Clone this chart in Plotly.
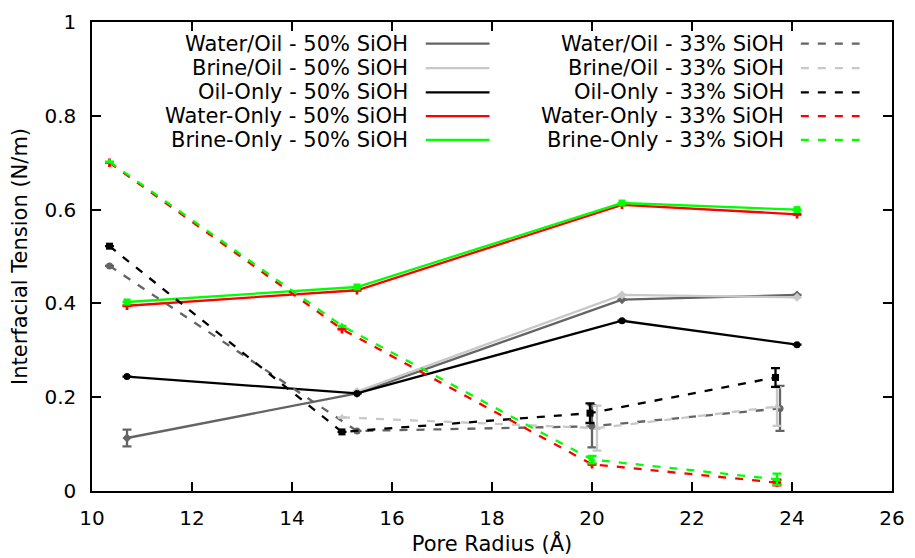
import plotly.graph_objects as go

# ---- data ----
x_wo50 = [10.7, 15.3, 20.6, 24.1]
y_wo50 = [0.113, 0.208, 0.408, 0.418]
e_wo50 = [0.018, 0.0, 0.0, 0.0]

x_bo50 = [15.3, 20.6, 24.1]
y_bo50 = [0.212, 0.418, 0.413]
e_bo50 = [0.0, 0.0, 0.0]

x_o50 = [10.7, 15.3, 20.6, 24.1]
y_o50 = [0.244, 0.208, 0.363, 0.312]
e_o50 = [0.0, 0.0, 0.0, 0.0]

x_w50 = [10.7, 15.3, 20.6, 24.1]
y_w50 = [0.395, 0.428, 0.610, 0.590]
e_w50 = [0.0, 0.0, 0.0, 0.0]

x_b50 = [10.7, 15.3, 20.6, 24.1]
y_b50 = [0.403, 0.435, 0.614, 0.600]
e_b50 = [0.0, 0.0, 0.0, 0.0]

x_wo33 = [10.35, 15.3, 20.0, 23.76]
y_wo33 = [0.480, 0.128, 0.138, 0.176]
e_wo33 = [0.0, 0.0, 0.045, 0.048]

x_bo33 = [15.0, 20.1, 23.7]
y_bo33 = [0.157, 0.134, 0.180]
e_bo33 = [0.0, 0.048, 0.041]

x_o33 = [10.35, 15.0, 19.96, 23.67]
y_o33 = [0.522, 0.126, 0.166, 0.242]
e_o33 = [0.0, 0.0, 0.021, 0.020]

x_w33 = [10.35, 15.0, 20.0, 23.7]
y_w33 = [0.700, 0.345, 0.057, 0.018]
e_w33 = [0.0, 0.0, 0.0, 0.006]

x_b33 = [10.35, 15.0, 20.0, 23.7]
y_b33 = [0.702, 0.352, 0.067, 0.025]
e_b33 = [0.0, 0.0, 0.008, 0.012]

x_ticks = [10, 12, 14, 16, 18, 20, 22, 24, 26]
y_ticks = [0, 0.2, 0.4, 0.6, 0.8, 1]

DG = "rgb(100,100,100)"
LG = "rgb(200,200,200)"
BK = "rgb(0,0,0)"
RD = "rgb(255,0,0)"
GN = "rgb(0,255,0)"
DASH = "8px,9px"

series = [
    ("Water/Oil - 50% SiOH", x_wo50, y_wo50, e_wo50, DG, "solid", "diamond"),
    ("Brine/Oil - 50% SiOH", x_bo50, y_bo50, e_bo50, LG, "solid", "diamond"),
    ("Oil-Only - 50% SiOH", x_o50, y_o50, e_o50, BK, "solid", "circle"),
    ("Water-Only - 50% SiOH", x_w50, y_w50, e_w50, RD, "solid", "cross"),
    ("Brine-Only - 50% SiOH", x_b50, y_b50, e_b50, GN, "solid", "square"),
    ("Water/Oil - 33% SiOH", x_wo33, y_wo33, e_wo33, DG, DASH, "circle"),
    ("Brine/Oil - 33% SiOH", x_bo33, y_bo33, e_bo33, LG, DASH, "triangle-up"),
    ("Oil-Only - 33% SiOH", x_o33, y_o33, e_o33, BK, DASH, "square"),
    ("Water-Only - 33% SiOH", x_w33, y_w33, e_w33, RD, DASH, "cross"),
    ("Brine-Only - 33% SiOH", x_b33, y_b33, e_b33, GN, DASH, "triangle-up"),
]

fig = go.Figure()
for name, xs, ys, es, col, dash, sym in series:
    fig.add_trace(go.Scatter(
        x=xs, y=ys, name=name, mode="lines+markers",
        line=dict(color=col, width=2.3, dash=dash),
        marker=dict(color=col, size=7, symbol=sym),
        error_y=dict(type="data", array=es, visible=True, color=col,
                     thickness=2.3, width=4.5),
        showlegend=False,
    ))

# ---- manual gnuplot-style legend (text then sample line) ----
X0, X1 = 92.0, 895.0
Y0, Y1 = 10.0, 491.5
def px(x):
    return (x - X0) / (X1 - X0)
def py(y):
    return (Y1 - y) / (Y1 - Y0)

rows_px = [32.3, 57.3, 82.3, 106.7, 131.0]
cols = [(411.5, 427.0, 491.0), (788.5, 803.5, 862.5)]
for i, (name, xs, ys, es, col, dash, sym) in enumerate(series):
    c = cols[i // 5]
    r = rows_px[i % 5]
    fig.add_annotation(x=px(c[0]), y=py(r), xref="paper", yref="paper",
                       text=name, showarrow=False, xanchor="right",
                       yanchor="middle",
                       font=dict(family="DejaVu Sans", size=21, color="black"))
    fig.add_shape(type="line", xref="paper", yref="paper",
                  x0=px(c[1]), x1=px(c[2]), y0=py(r), y1=py(r),
                  line=dict(color=col, width=2.3, dash=dash))

axis_common = dict(
    showline=True, linecolor="black", linewidth=1.5, mirror="ticks",
    ticks="inside", ticklen=9, tickwidth=1.5, tickcolor="black",
    showgrid=False, zeroline=False,
    tickfont=dict(family="DejaVu Sans", size=20, color="black"),
)

fig.update_layout(
    width=915, height=558,
    margin=dict(l=92, r=20, t=10, b=66.5),
    paper_bgcolor="white", plot_bgcolor="white",
    font=dict(family="DejaVu Sans", size=20, color="black"),
    xaxis=dict(range=[10, 26], tickvals=x_ticks,
               ticktext=[str(v) for v in x_ticks],
               title=dict(text="Pore Radius (Å)", standoff=2,
                          font=dict(size=21)),
               ticklabelstandoff=8, **axis_common),
    yaxis=dict(range=[0, 1], tickvals=y_ticks,
               ticktext=["0", "0.2", "0.4", "0.6", "0.8", "1"],
               title=dict(text="Interfacial Tension (N/m)", standoff=11,
                          font=dict(size=21)),
               ticklabelstandoff=10, **axis_common),
)

fig.write_html("out.html")
